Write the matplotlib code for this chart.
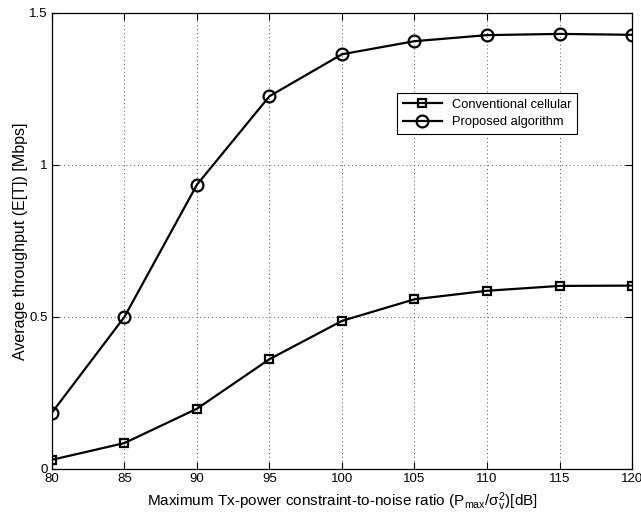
import matplotlib
matplotlib.use('Agg')
import matplotlib.pyplot as plt

snr_db = [80, 85, 90, 95, 100, 105, 110, 115, 120]
conventional = [0.030, 0.085, 0.198, 0.361, 0.487, 0.558, 0.586, 0.602, 0.603]
proposed = [0.185, 0.500, 0.935, 1.226, 1.364, 1.407, 1.427, 1.431, 1.428]

plt.rcParams['font.family'] = ['Liberation Sans', 'DejaVu Sans']
plt.rcParams['mathtext.default'] = 'regular'
plt.rcParams['font.size'] = 9.5

fig = plt.figure(figsize=(6.41, 5.17), dpi=100)
ax = fig.add_axes([0.081, 0.093, 0.905, 0.882])

ax.plot(snr_db, conventional, color='black', linewidth=1.6, marker='s', markersize=6,
        markerfacecolor='none', markeredgewidth=1.6, label='Conventional cellular')
ax.plot(snr_db, proposed, color='black', linewidth=1.6, marker='o', markersize=8.5,
        markerfacecolor='none', markeredgewidth=1.6, label='Proposed algorithm')

ax.set_xlim(80, 120)
ax.set_ylim(0, 1.5)
ax.set_xticks([80, 85, 90, 95, 100, 105, 110, 115, 120])
ax.set_yticks([0, 0.5, 1, 1.5])
ax.set_yticklabels(['0', '0.5', '1', '1.5'])
ax.tick_params(direction='in', top=True, right=True, length=5, width=0.8, labelsize=9.5, pad=3)
ax.grid(True, linestyle=(0, (1, 3)), color='#555555', linewidth=0.7)
for s in ax.spines.values():
    s.set_linewidth(0.9)

ax.set_xlabel('Maximum Tx-power constraint-to-noise ratio (P$_{max}$/$\\sigma_v^2$)[dB]', fontsize=11, labelpad=4)
ax.set_ylabel('Average throughput (E[T]) [Mbps]', fontsize=11.5, labelpad=1)

leg = ax.legend(loc='upper left', bbox_to_anchor=(0.595, 0.825), borderaxespad=0, fancybox=False,
                edgecolor='black', framealpha=1, borderpad=0.45, handlelength=3,
                labelspacing=0.45, fontsize=9.3)
leg.get_frame().set_linewidth(0.8)

fig.savefig('out.png', dpi=100)
